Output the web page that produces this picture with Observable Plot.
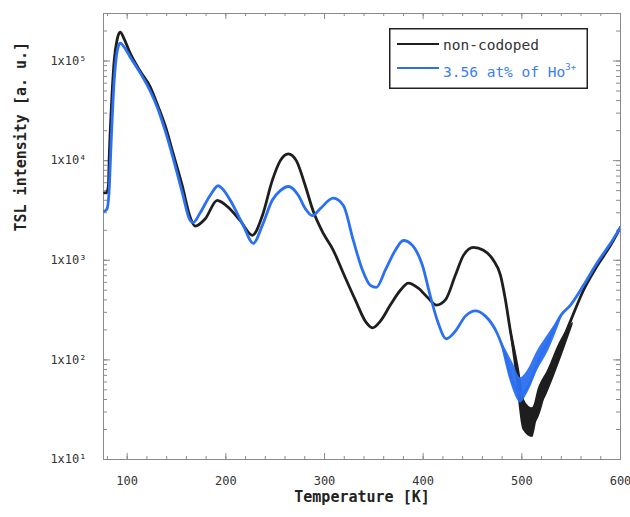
<!DOCTYPE html>
<html><head><meta charset="utf-8">
<script src="https://cdn.jsdelivr.net/npm/d3@7"></script>
<script src="https://cdn.jsdelivr.net/npm/@observablehq/plot@0.6"></script>
<style>
body{margin:0;background:#fff;}
#wrap{position:relative;width:630px;height:517px;font-family:"DejaVu Sans Mono",monospace;}
#legend{position:absolute;left:389px;top:28px;}
</style>
</head><body>
<div id="wrap"><div id="chart"></div>
<svg id="legend" width="200" height="61" font-family="DejaVu Sans Mono, monospace" font-size="14.5">
  <rect x="0.75" y="0.75" width="197.5" height="59.5" fill="#fff" stroke="#222" stroke-width="1.5"></rect>
  <line x1="8" x2="50" y1="16" y2="16" stroke="#1e1e1e" stroke-width="2"></line>
  <text x="54" y="22" fill="#333">non-codoped</text>
  <line x1="8" x2="50" y1="40" y2="40" stroke="#2b70f0" stroke-width="2"></line>
  <text x="54" y="49" fill="#3a7ef2">3.56 at% of Ho<tspan dy="-7" font-size="9">3+</tspan></text>
</svg>
</div>
<script>
// Temperature [K] and TSL intensity
const blackT = [77,79,81,81.7,83.8,86.8,89.9,92.9,97,103,113.2,123.3,130.4,138.5,146.7,155.8,163.9,169,179,191.3,196.3,202.4,214.6,226.8,237,247,255.2,263.3,271.4,280.5,288.6,298.8,308.9,319.1,331.2,342.4,348.5,356.6,366.7,376.9,385,395.1,405.3,413.4,422.5,432.7,440.8,450.9,461.1,471.2,478.3,483.4,488.4,495.5,501.6,508.7,515.8,526,537.1,549.3,562.5,576.7,589.9,600];
const blackI = [4750,4750,5600,1.0e4,3.16e4,1.0e5,1.66e5,1.95e5,1.66e5,1.2e5,7.9e4,5.5e4,3.7e4,2.24e4,1.17e4,5600,2700,2200,2600,4000,3800,3400,2500,1780,2800,6300,1.0e4,1.17e4,1.0e4,5600,3100,1860,1260,740,400,236,210,245,355,500,590,525,415,355,400,710,1120,1350,1260,1000,710,400,195,83,35,22,27.6,62,123,245,500,890,1410,2140];
const blueT = [77,79.7,81.7,83.8,86.8,89.9,92.9,97,103,113.2,123.3,130.4,138.5,146.7,155.8,163.9,167,174,184.2,192.3,196.3,204.5,217.6,227.8,237,247,255.2,263.3,273.4,280.5,287.6,295.7,308.9,319.1,329.2,338.4,346.5,352.5,361.7,371.8,379.9,389.1,399.2,407.3,414.4,423.5,432.7,442.8,453,463.1,475.3,483.4,490.5,498.6,506.7,515.8,527,539.1,549.3,562.5,576.7,589.9,600];
const blueI = [3100,3300,5000,1.58e4,6.3e4,1.26e5,1.51e5,1.38e5,1.1e5,7.6e4,5.0e4,3.45e4,2.0e4,1.05e4,4800,2500,2400,3000,4500,5600,5250,4000,2240,1480,2240,4000,5000,5500,4500,3300,2800,3300,4200,3550,1580,800,560,535,800,1260,1580,1410,890,435,248,163,195,275,310,275,182,110,62,46,55,92,155,275,355,560,955,1480,2140];
// noise envelopes near the minimum
const blackBandT = [486,493.6,501.6,510.8,516.8,526,539,552];
const blackBandLo = [270,74,19.5,16.6,29,46,98,225];
const blackBandHi = [290,123,41.7,33,52,78,155,240];
const blueBandT = [479,483.4,491.5,498.6,505.7,515.8,527,542];
const blueBandLo = [148,93,49,37,46,78,123,290];
const blueBandHi = [158,129,91,66,78,123,182,305];

const xMajor = [100,200,300,400,500,600];
const yMajor = [10,100,1000,10000,100000];
const yExp = ["¹","²","³","⁴","⁵"];

const black = blackT.map((t,i)=>({T:t, v:blackI[i]}));
const blue = blueT.map((t,i)=>({T:t, v:blueI[i]}));
const blackBand = blackBandT.map((t,i)=>({T:t, lo:blackBandLo[i], hi:blackBandHi[i]}));
const blueBand = blueBandT.map((t,i)=>({T:t, lo:blueBandLo[i], hi:blueBandHi[i]}));

const W=630, H=517, mL=103, mR=10, mT=13, mB=58;
const fW=W-mL-mR, fH=H-mT-mB;
const xMinor = d3.range(80, 601, 20);
const yMinor = [];
for (let e=1; e<=5; e++) for (let k=1; k<10; k++) { const v=k*10**e; if (v<=3e5) yMinor.push(v); }
const BLK="#1e1e1e", BLU="#2b70f0", TICK="#8a8a8a";

const chart = Plot.plot({
  width:W, height:H, marginLeft:mL, marginRight:mR, marginTop:mT, marginBottom:mB,
  style:{fontFamily:"DejaVu Sans Mono, monospace", fontSize:"12px", color:"#333", background:"#fff", overflow:"visible"},
  x:{domain:[76,600]},
  y:{type:"log", domain:[10,3e5]},
  marks:[
    Plot.frame({stroke:TICK}),
    Plot.tickX(xMinor, {x:d=>d, insetTop:fH-3, stroke:TICK}),
    Plot.tickX(xMajor, {x:d=>d, insetTop:fH-6, stroke:TICK}),
    Plot.tickX(xMinor, {x:d=>d, insetBottom:fH-3, stroke:TICK}),
    Plot.tickX(xMajor, {x:d=>d, insetBottom:fH-6, stroke:TICK}),
    Plot.tickY(yMinor, {y:d=>d, insetRight:fW-4, stroke:TICK}),
    Plot.tickY(yMajor, {y:d=>d, insetRight:fW-7, stroke:TICK}),
    Plot.tickY(yMinor, {y:d=>d, insetLeft:fW-4, stroke:TICK}),
    Plot.tickY(yMajor, {y:d=>d, insetLeft:fW-7, stroke:TICK}),
    Plot.axisX({ticks:xMajor, tickSize:0, tickPadding:17, label:null, tickFormat:d=>String(d)}),
    Plot.axisY({ticks:yMajor, tickSize:0, tickPadding:17, label:null, tickFormat:d=>"1x10"+yExp[Math.round(Math.log10(d))-1]}),
    Plot.areaY(blackBand, {x:"T", y1:"lo", y2:"hi", fill:BLK, curve:"monotone-x", clip:true}),
    Plot.line(black, {x:"T", y:"v", stroke:BLK, strokeWidth:2.8, curve:"monotone-x", clip:true}),
    Plot.areaY(blueBand, {x:"T", y1:"lo", y2:"hi", fill:BLU, fillOpacity:0.95, curve:"monotone-x", clip:true}),
    Plot.line(blue, {x:"T", y:"v", stroke:BLU, strokeWidth:2.8, curve:"monotone-x", clip:true}),
    Plot.text(["Temperature [K]"], {frameAnchor:"bottom", dy:42, fontWeight:"bold", fontSize:15, fill:"#222"}),
    Plot.text(["TSL intensity [a. u.]"], {frameAnchor:"left", dx:-82, dy:-5, rotate:-90, fontWeight:"bold", fontSize:15, fill:"#222"})
  ]
});
document.getElementById("chart").appendChild(chart);
</script>
</body></html>
